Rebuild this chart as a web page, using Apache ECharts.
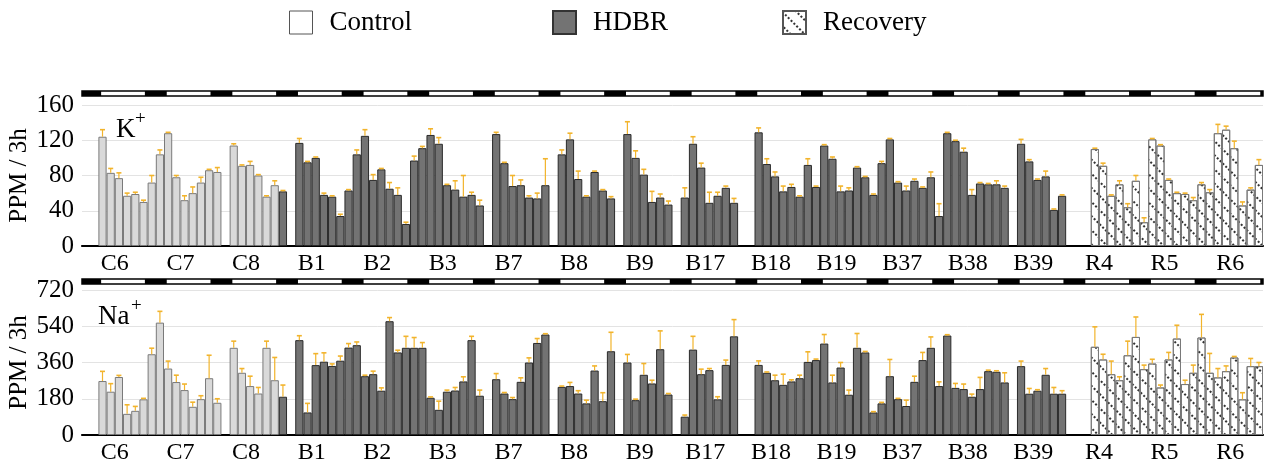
<!DOCTYPE html>
<html><head><meta charset="utf-8">
<script src="https://cdn.jsdelivr.net/npm/echarts@6/dist/echarts.min.js"></script>
<style>html,body{margin:0;padding:0;background:#fff}#c{width:1268px;height:465px}</style>
</head><body><div id="c"></div>
<script>
// ---- day groups (8 bins of 3 h each) ----
const days = ['C6','C7','C8','B1','B2','B3','B7','B8','B9','B17','B18','B19','B37','B38','B39','R4','R5','R6'];
const controlDays = 3, hdbrDays = 12, recoveryDays = 3;
const yTicksK = [0, 40, 80, 120, 160];
const yTicksNa = [0, 180, 360, 540, 720];
const lightsOffHour = 23, lightsOnHour = 7;

// ---- K+ (PPM / 3h) ----
const kControl = [null,null,124,83,77,57,59,50, 72,104,128,78,52,60,72,86, 84,null,114,91,92,80,56,69];
const kControlErr = [null,null,8,5,6,3,2,2, 8,5,1,2,5,7,6,1, 5,null,2,1,4,1,1,5];
const kHDBR = [
  62,null,117,95,100,58,56,34,
  63,104,125,75,87,65,58,25,
  97,111,126,116,69,64,56,58,
  46,null,127,94,68,69,55,54,
  69,null,104,121,76,56,84,63,
  54,null,127,100,81,50,55,47,
  null,55,116,89,49,57,66,49,
  null,null,129,93,79,62,67,56,
  92,67,114,99,62,63,89,78,
  58,94,121,72,63,74,66,78,
  34,128,119,107,58,71,70,70,
  66,null,116,96,75,79,41,57];
const kHDBRErr = [
  1,null,5,1,1,2,1,2,
  1,5,7,6,1,7,8,2,
  5,2,7,7,1,10,24,3,
  6,null,2,1,12,6,2,6,
  30,null,5,7,9,1,1,1,
  2,null,14,8,6,12,4,4,
  null,11,8,5,12,4,2,5,
  null,null,5,6,5,6,3,1,
  7,1,1,2,6,3,1,1,
  1,2,1,1,5,2,1,6,
  14,1,1,4,6,1,1,4,
  2,null,5,2,1,6,1,1];
const kRecovery = [null,null,null,110,91,57,70,44, 74,27,121,114,75,60,59,52, 70,61,128,132,111,46,64,92];
const kRecoveryErr = [null,null,null,1,3,1,4,4, 6,5,1,1,1,1,1,3, 2,3,10,4,8,4,2,6];

// ---- Na+ (PPM / 3h) ----
const naControl = [null,null,268,215,288,105,120,177, 401,558,330,263,223,140,178,282, 160,null,433,309,243,206,433,272];
const naControlErr = [null,null,48,40,8,45,22,5, 30,56,37,34,30,23,17,114, 20,null,33,21,49,30,33,113];
const naHDBR = [
  190,null,471,112,347,364,343,369,
  434,446,292,302,220,565,410,433,
  433,433,185,125,215,221,266,471,
  195,null,277,206,178,264,360,457,
  499,null,239,243,206,157,320,168,
  416,null,360,173,299,256,426,201,
  null,91,424,302,322,177,348,490,
  null,null,348,309,272,249,266,282,
  363,372,454,261,335,200,433,410,
  112,157,292,178,144,264,372,433,
  243,494,234,228,190,228,317,314,
  261,null,342,205,220,299,205,205];
const naHDBRErr = [
  58,null,22,45,57,44,10,23,
  20,16,5,15,14,18,11,57,
  51,26,4,43,8,15,23,19,
  28,null,28,5,8,20,23,22,
  4,null,4,18,14,16,23,42,
  94,null,40,5,56,16,91,5,
  null,8,66,25,8,13,24,83,
  null,null,20,4,25,53,8,15,
  50,5,45,36,25,23,71,5,
  4,5,83,4,29,28,38,54,
  21,4,22,25,13,58,5,5,
  48,null,25,26,5,31,31,15];
const naRecovery = [null,null,null,438,375,302,272,396, 487,327,355,236,375,479,253,309, 484,309,286,317,385,177,342,342];
const naRecoveryErr = [null,null,null,99,26,65,17,70, 99,20,21,12,35,66,19,38, 115,96,44,26,5,33,38,18];

// ---------------------------------------------------------------
const BPD = 8;
const nBins = days.length * BPD;
const binCats = Array.from({length: nBins}, (_, i) => String(i));
const hoursTotal = nBins * 3;
const FONT = 'Liberation Serif';
const ERR_COLOR = '#f2b42c';

function placed(arr, offset) {
  const out = new Array(nBins).fill(null);
  arr.forEach((v, i) => { out[offset + i] = v; });
  return out;
}
function errItems(vals, errs, offset) {
  const out = [];
  vals.forEach((v, i) => { if (v != null && errs[i] != null) out.push([offset + i, v, errs[i]]); });
  return out;
}
const offC = 0, offH = controlDays * BPD, offR = (controlDays + hdbrDays) * BPD;

function renderErr(params, api) {
  const x = api.value(0), v = api.value(1), e = api.value(2);
  const p0 = api.coord([x, v]);
  const p1 = api.coord([x, v + e]);
  const w = 5;
  return {type: 'group', children: [
    {type: 'line', shape: {x1: p0[0], y1: p0[1], x2: p1[0], y2: p1[1]}, style: {stroke: ERR_COLOR, lineWidth: 1.2}},
    {type: 'line', shape: {x1: p1[0] - w / 2, y1: p1[1], x2: p1[0] + w / 2, y2: p1[1]}, style: {stroke: ERR_COLOR, lineWidth: 1.6}}
  ]};
}
function renderStrip(params, api) {
  const s = api.value(0), e = api.value(1), kind = api.value(2);
  const p0 = api.coord([s, 1]);
  const p1 = api.coord([e, 0]);
  const cs = params.coordSys;
  const rect = echarts.graphic.clipRectByRect(
    {x: p0[0], y: p0[1], width: p1[0] - p0[0], height: p1[1] - p0[1]},
    {x: cs.x, y: cs.y, width: cs.width, height: cs.height});
  if (!rect) return null;
  return {type: 'rect', shape: rect,
    style: kind === 0 ? {fill: '#fff', stroke: '#000', lineWidth: 1.5} : {fill: '#000'}};
}
const stripData = [[0, hoursTotal, 0]];
for (let d = 0; d <= days.length; d++) stripData.push([d * 24 + lightsOffHour - 24, d * 24 + lightsOnHour, 1]);

const decal = {symbol: 'rect', symbolSize: 1, color: '#333', dashArrayX: [1.3, 1.5], dashArrayY: [1.1, 7.5], rotation: Math.PI / 4};
const styles = {
  Control: {color: '#d9d9d9', borderColor: '#7a7a7a', borderWidth: 1},
  HDBR: {color: '#737373', borderColor: '#2a2a2a', borderWidth: 1},
  Recovery: {color: '#ffffff', borderColor: '#7a7a7a', borderWidth: 1, decal: decal}
};

function barSeries(name, data, axisIdx, stack) {
  return {type: 'bar', name: name, data: data, xAxisIndex: axisIdx.x, yAxisIndex: axisIdx.y, stack: stack,
    barCategoryGap: '0%', itemStyle: styles[name], silent: true, animation: false};
}
function errSeries(items, axisIdx) {
  return {type: 'custom', data: items, xAxisIndex: axisIdx.x, yAxisIndex: axisIdx.y,
    renderItem: renderErr, z: 5, silent: true, animation: false, encode: {x: 0, y: 1}};
}

const L = 82, R = 5;
const grids = [
  {left: L, right: R, top: 105, height: 141},
  {left: L, right: R, top: 290, height: 145},
  {left: L, right: R, top: 91, height: 5},
  {left: L, right: R, top: 279, height: 5}
].map(g => Object.assign(g, {outerBoundsMode: 'none', containLabel: false}));
function binAxis(g) {
  return {type: 'category', gridIndex: g, data: binCats, boundaryGap: true, show: false};
}
function dayAxis(g) {
  return {type: 'category', gridIndex: g, data: days, boundaryGap: true, position: 'bottom',
    axisLine: {lineStyle: {color: '#000', width: 2.2}},
    axisTick: {length: 7, lineStyle: {color: '#000', width: 2}},
    axisLabel: {fontFamily: FONT, fontSize: 24, color: '#000', margin: 6}};
}
function valAxis(g, max, interval) {
  return {type: 'value', gridIndex: g, min: 0, max: max, interval: interval,
    name: 'PPM / 3h', nameLocation: 'middle', nameRotate: 90, nameGap: 50, nameMoveOverlap: false,
    nameTextStyle: {fontFamily: FONT, fontSize: 25, color: '#000'},
    axisLine: {show: false}, axisTick: {show: false},
    axisLabel: {fontFamily: FONT, fontSize: 25, color: '#000', margin: 8},
    splitLine: {lineStyle: {color: '#e3e3e3', width: 1}}};
}

const option = {
  backgroundColor: '#fff',
  animation: false,
  grid: grids,
  xAxis: [binAxis(0), dayAxis(0), binAxis(1), dayAxis(1),
    {type: 'value', gridIndex: 2, min: 0, max: hoursTotal, show: false},
    {type: 'value', gridIndex: 3, min: 0, max: hoursTotal, show: false}],
  yAxis: [valAxis(0, yTicksK[yTicksK.length - 1], yTicksK[1]), valAxis(1, yTicksNa[yTicksNa.length - 1], yTicksNa[1]),
    {type: 'value', gridIndex: 2, min: 0, max: 1, show: false},
    {type: 'value', gridIndex: 3, min: 0, max: 1, show: false}],
  legend: [
    {data: [{name: 'Control', itemStyle: {color: '#fff', borderColor: '#555', borderWidth: 1}}], left: 284, top: 4},
    {data: [{name: 'HDBR', itemStyle: {borderColor: '#333'}}], left: 547, top: 4},
    {data: [{name: 'Recovery', itemStyle: {borderColor: '#555'}}], left: 777, top: 4}
  ].map(l => Object.assign(l, {icon: 'rect', itemWidth: 23, itemHeight: 23, selectedMode: false,
    textStyle: {fontFamily: FONT, fontSize: 27, color: '#000', padding: [0, 0, 0, 12]}})),
  title: [
    {text: 'K', left: 116, top: 116, textStyle: {fontFamily: FONT, fontSize: 27, fontWeight: 'normal', color: '#000'}},
    {text: '+', left: 135, top: 110, textStyle: {fontFamily: FONT, fontSize: 19, fontWeight: 'normal', color: '#000'}},
    {text: 'Na', left: 98, top: 303, textStyle: {fontFamily: FONT, fontSize: 27, fontWeight: 'normal', color: '#000'}},
    {text: '+', left: 131, top: 297, textStyle: {fontFamily: FONT, fontSize: 19, fontWeight: 'normal', color: '#000'}}
  ].map(t => Object.assign(t, {padding: 0})),
  series: [
    barSeries('Control', placed(kControl, offC), {x: 0, y: 0}, 'k'),
    barSeries('HDBR', placed(kHDBR, offH), {x: 0, y: 0}, 'k'),
    barSeries('Recovery', placed(kRecovery, offR), {x: 0, y: 0}, 'k'),
    errSeries(errItems(kControl, kControlErr, offC).concat(errItems(kHDBR, kHDBRErr, offH), errItems(kRecovery, kRecoveryErr, offR)), {x: 0, y: 0}),
    barSeries('Control', placed(naControl, offC), {x: 2, y: 1}, 'na'),
    barSeries('HDBR', placed(naHDBR, offH), {x: 2, y: 1}, 'na'),
    barSeries('Recovery', placed(naRecovery, offR), {x: 2, y: 1}, 'na'),
    errSeries(errItems(naControl, naControlErr, offC).concat(errItems(naHDBR, naHDBRErr, offH), errItems(naRecovery, naRecoveryErr, offR)), {x: 2, y: 1}),
    {type: 'custom', data: stripData, xAxisIndex: 4, yAxisIndex: 2, renderItem: renderStrip, silent: true, encode: {x: [0, 1]}},
    {type: 'custom', data: stripData, xAxisIndex: 5, yAxisIndex: 3, renderItem: renderStrip, silent: true, encode: {x: [0, 1]}}
  ]
};
const chart = echarts.init(document.getElementById('c'), null, {renderer: 'canvas'});
chart.setOption(option);
</script></body></html>
